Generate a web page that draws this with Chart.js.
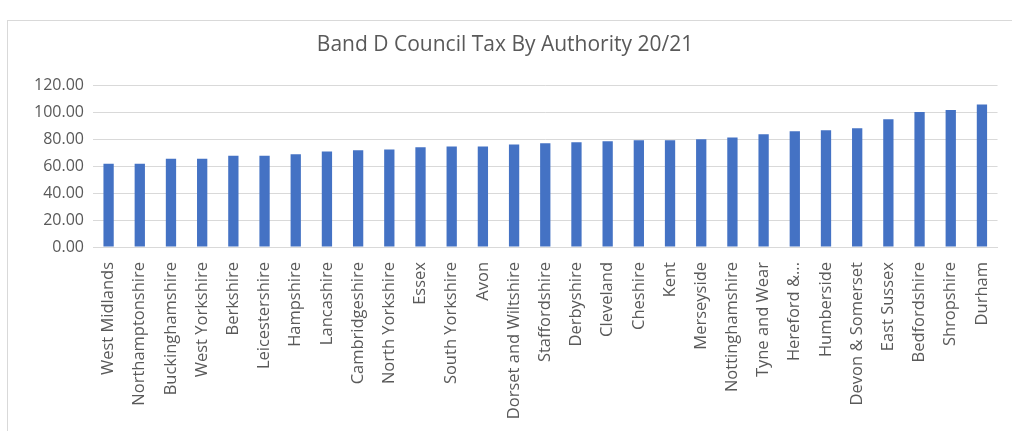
<!DOCTYPE html>
<html>
<head>
<meta charset="utf-8">
<script src="https://cdn.jsdelivr.net/npm/chart.js@4"></script>
<style>
  body { margin: 0; background: #fff; }
  #box {
    position: absolute; left: 7px; top: 20px;
    width: 1011px; height: 420px;
    border: 1px solid #d9d9d9; box-sizing: border-box;
  }
</style>
</head>
<body>
<div id="box"><canvas id="bar-chart"></canvas></div>
<script>
// authorities, lowest to highest
const authorities = ['West Midlands', 'Northamptonshire', 'Buckinghamshire', 'West Yorkshire', 'Berkshire',
  'Leicestershire', 'Hampshire', 'Lancashire', 'Cambridgeshire', 'North Yorkshire', 'Essex',
  'South Yorkshire', 'Avon', 'Dorset and Wiltshire', 'Staffordshire', 'Derbyshire', 'Cleveland',
  'Cheshire', 'Kent', 'Merseyside', 'Nottinghamshire', 'Tyne and Wear', 'Hereford &...',
  'Humberside', 'Devon & Somerset', 'East Sussex', 'Bedfordshire', 'Shropshire', 'Durham']

// Band D precept values
const bandD = [61.7, 61.7, 65.4, 65.4, 67.7, 67.7, 68.7, 70.9, 71.7, 72.4, 73.9,
  74.6, 74.6, 76.1, 76.9, 77.6, 78.4, 79.1, 79.1, 79.9, 81.3, 83.6, 85.8,
  86.5, 88.0, 94.7, 100.1, 101.6, 105.6]

const yTicks = [0, 20, 40, 60, 80, 100, 120]

const chartCanvas = document.querySelector('#bar-chart')

new Chart(chartCanvas, {
  type: 'bar',
  data: {
    labels: authorities,
    datasets: [{
      data: bandD,
      backgroundColor: '#4472c4',
      borderWidth: 0,
      barPercentage: 0.33,
      categoryPercentage: 1.0
    }]
  },
  options: {
    responsive: true,
    maintainAspectRatio: false,
    animation: false,
    layout: { padding: { left: 0, right: 15, top: 0, bottom: 0 } },
    plugins: {
      legend: { display: false },
      tooltip: { enabled: false },
      title: {
        display: true,
        text: 'Band D Council Tax By Authority 20/21',
        color: '#595959',
        font: { family: 'Open Sans', size: 21, weight: 'normal' },
        padding: { top: 11, bottom: 28 }
      }
    },
    scales: {
      x: {
        grid: { display: false, drawTicks: false },
        border: { display: true, color: '#d9d9d9' },
        ticks: {
          color: '#595959',
          font: { family: 'Open Sans', size: 16.5 },
          minRotation: 90,
          maxRotation: 90,
          autoSkip: false,
          padding: 15
        },
        afterFit: function (scale) { scale.height = 192 }
      },
      y: {
        min: 0,
        max: 120,
        afterBuildTicks: function (scale) {
          scale.ticks = yTicks.map(v => ({ value: v }))
        },
        grid: { color: '#d9d9d9', drawTicks: false },
        border: { display: false },
        ticks: {
          color: '#595959',
          font: { family: 'Open Sans', size: 16 },
          padding: 9,
          callback: function (value) {
            return value.toFixed(2)
          }
        },
        afterFit: function (scale) { scale.width = 85 }
      }
    }
  }
})
</script>
</body>
</html>
